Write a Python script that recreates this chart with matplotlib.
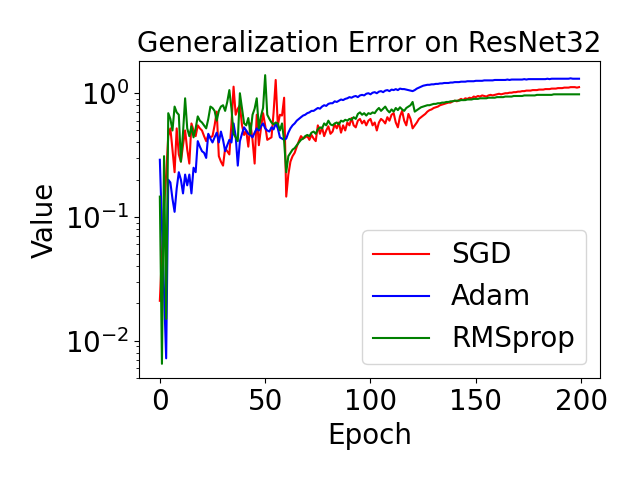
import matplotlib
matplotlib.use('Agg')
import matplotlib.pyplot as plt
import numpy as np

# Error de generalizacion por epoca (200 epocas)
sgd = [
    0.021, 0.05, 0.12, 0.22, 0.45, 0.52, 0.35, 0.23, 0.52, 0.32,
    0.28, 0.38, 0.50, 0.35, 0.27, 0.57, 0.50, 0.45, 0.55, 0.52,
    0.50, 0.45, 0.41, 0.46, 0.44, 0.45, 0.55, 0.71, 0.31, 0.28,
    0.26, 0.36, 0.34, 0.32, 0.57, 1.13, 0.67, 0.75, 0.80, 0.55,
    0.46, 0.50, 0.37, 0.57, 0.42, 0.27, 0.67, 0.38, 0.52, 0.69,
    0.55, 0.42, 0.43, 0.44, 0.70, 1.28, 0.55, 0.67, 0.66, 0.92,
    0.146, 0.22, 0.28, 0.31, 0.33, 0.37, 0.41, 0.45, 0.43, 0.44,
    0.45, 0.42, 0.46, 0.43, 0.41, 0.55, 0.47, 0.53, 0.45, 0.50,
    0.54, 0.47, 0.49, 0.56, 0.52, 0.58, 0.48, 0.55, 0.50, 0.58,
    0.55, 0.63, 0.55, 0.53, 0.60, 0.62, 0.57, 0.60, 0.55, 0.60,
    0.62, 0.55, 0.58, 0.50, 0.58, 0.62, 0.60, 0.57, 0.64, 0.60,
    0.67, 0.69, 0.58, 0.53, 0.65, 0.72, 0.60, 0.55, 0.68, 0.62,
    0.52, 0.55, 0.58, 0.62, 0.64, 0.66, 0.68, 0.71, 0.73, 0.74,
    0.76, 0.77, 0.78, 0.80, 0.81, 0.82, 0.83, 0.84, 0.84, 0.86,
    0.87, 0.86, 0.88, 0.90, 0.88, 0.91, 0.90, 0.92, 0.91, 0.94,
    0.93, 0.95, 0.94, 0.96, 0.95, 0.94, 0.96, 0.97, 0.96, 0.97,
    0.98, 0.99, 0.98, 0.99, 1.00, 1.00, 1.01, 1.01, 1.02, 1.02,
    1.03, 1.03, 1.04, 1.04, 1.05, 1.05, 1.05, 1.06, 1.06, 1.06,
    1.07, 1.07, 1.07, 1.08, 1.08, 1.08, 1.09, 1.09, 1.09, 1.10,
    1.10, 1.10, 1.11, 1.11, 1.11, 1.12, 1.12, 1.12, 1.11, 1.12,
]

adam = [
    0.29, 0.085, 0.025, 0.0072, 0.20, 0.19, 0.14, 0.11, 0.17, 0.23,
    0.20, 0.155, 0.22, 0.18, 0.22, 0.155, 0.25, 0.23, 0.41, 0.37,
    0.34, 0.33, 0.30, 0.47, 0.43, 0.40, 0.44, 0.48, 0.40, 0.49,
    0.42, 0.34, 0.38, 0.42, 0.40, 0.57, 0.45, 0.26, 0.41, 0.47,
    0.53, 0.50, 0.47, 0.46, 0.44, 0.48, 0.52, 0.50, 0.54, 0.57,
    0.52, 0.50, 0.49, 0.53, 0.51, 0.57, 0.52, 0.44, 0.43, 0.42,
    0.43, 0.48, 0.52, 0.55, 0.57, 0.60, 0.62, 0.64, 0.66, 0.67,
    0.69, 0.70, 0.72, 0.72, 0.74, 0.76, 0.75, 0.78, 0.80, 0.79,
    0.82, 0.83, 0.83, 0.86, 0.85, 0.87, 0.89, 0.88, 0.90, 0.91,
    0.93, 0.92, 0.94, 0.95, 0.93, 0.96, 0.97, 0.96, 0.99, 1.00,
    0.98, 1.01, 1.02, 1.00, 1.03, 1.04, 1.02, 1.05, 1.06, 1.04,
    1.07, 1.06, 1.08, 1.06, 1.09, 1.08, 1.08, 1.07, 1.06, 1.05,
    1.04, 1.06, 1.09, 1.11, 1.13, 1.15, 1.16, 1.17, 1.17, 1.18,
    1.18, 1.19, 1.19, 1.20, 1.20, 1.21, 1.21, 1.21, 1.22, 1.22,
    1.23, 1.23, 1.23, 1.24, 1.24, 1.24, 1.25, 1.25, 1.25, 1.25,
    1.26, 1.26, 1.26, 1.26, 1.27, 1.27, 1.27, 1.27, 1.27, 1.28,
    1.28, 1.28, 1.28, 1.28, 1.28, 1.29, 1.28, 1.29, 1.29, 1.29,
    1.29, 1.29, 1.29, 1.30, 1.29, 1.30, 1.30, 1.30, 1.30, 1.30,
    1.30, 1.30, 1.30, 1.30, 1.31, 1.30, 1.31, 1.31, 1.31, 1.31,
    1.31, 1.31, 1.31, 1.31, 1.31, 1.32, 1.31, 1.31, 1.31, 1.31,
]

rmsprop = [
    0.146, 0.0065, 0.31, 0.015, 0.69, 0.62, 0.50, 0.78, 0.70, 0.67,
    0.28, 0.48, 0.91, 0.52, 0.45, 0.54, 0.44, 0.52, 0.65, 0.60,
    0.58, 0.55, 0.52, 0.62, 0.78, 0.76, 0.72, 0.60, 0.72, 0.78,
    0.80, 0.72, 0.85, 1.06, 0.75, 0.47, 0.44, 0.41, 1.00, 0.75,
    0.57, 0.55, 0.63, 0.47, 0.67, 0.75, 0.91, 0.52, 0.65, 0.76,
    1.40, 0.67, 0.62, 0.58, 0.56, 0.58, 0.57, 0.50, 0.57, 0.41,
    0.23, 0.31, 0.33, 0.35, 0.36, 0.38, 0.40, 0.42, 0.43, 0.45,
    0.46, 0.45, 0.48, 0.49, 0.47, 0.51, 0.53, 0.52, 0.57, 0.55,
    0.60, 0.56, 0.55, 0.57, 0.58, 0.56, 0.60, 0.59, 0.61, 0.60,
    0.62, 0.61, 0.64, 0.62, 0.68, 0.70, 0.67, 0.69, 0.66, 0.69,
    0.68, 0.70, 0.69, 0.73, 0.76, 0.72, 0.75, 0.78, 0.73, 0.70,
    0.74, 0.71, 0.76, 0.73, 0.77, 0.74, 0.72, 0.76, 0.78, 0.80,
    0.85, 0.71, 0.73, 0.75, 0.77, 0.78, 0.79, 0.80, 0.80, 0.81,
    0.82, 0.82, 0.83, 0.83, 0.84, 0.84, 0.85, 0.85, 0.86, 0.86,
    0.87, 0.87, 0.87, 0.88, 0.88, 0.88, 0.89, 0.89, 0.89, 0.90,
    0.90, 0.90, 0.91, 0.91, 0.91, 0.91, 0.92, 0.92, 0.92, 0.92,
    0.93, 0.93, 0.93, 0.93, 0.94, 0.94, 0.94, 0.94, 0.95, 0.95,
    0.95, 0.95, 0.95, 0.96, 0.96, 0.96, 0.96, 0.96, 0.96, 0.97,
    0.97, 0.97, 0.97, 0.97, 0.97, 0.97, 0.97, 0.98, 0.98, 0.98,
    0.98, 0.98, 0.98, 0.98, 0.98, 0.98, 0.98, 0.98, 0.98, 0.98,
]

epochs = np.arange(len(sgd))

plt.rcParams['font.size'] = 20

fig, ax = plt.subplots(figsize=(6.4, 4.8), dpi=100)
ax.plot(epochs, sgd, color='red', label='SGD')
ax.plot(epochs, adam, color='blue', label='Adam')
ax.plot(epochs, rmsprop, color='green', label='RMSprop')
ax.set_yscale('log')

ax.set_title('Generalization Error on ResNet32', fontsize=20)
ax.set_xlabel('Epoch')
ax.set_ylabel('Value')
ax.legend(loc='lower right')

plt.subplots_adjust(left=0.217, right=0.9375, top=0.8735, bottom=0.212)
plt.savefig('out.png')
